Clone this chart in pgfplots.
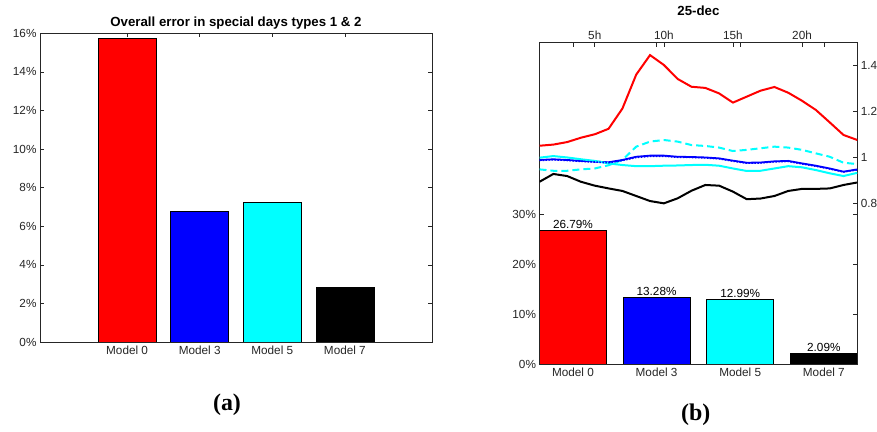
\documentclass[border=0pt]{standalone}
\usepackage{pgfplots}
\pgfplotsset{compat=1.18}
\usepackage{fontspec}
\setmainfont{Liberation Sans}
\newfontfamily\capfont{Liberation Serif}
\definecolor{axgray}{RGB}{38,38,38}
\definecolor{mcyan}{RGB}{0,255,255}
\pgfplotsset{
  every axis title shift=0pt,
  every axis/.append style={
    scale only axis,
    /pgf/number format/assume math mode=true,
    tick label style={font=\fontsize{11.8}{13}\selectfont, color=axgray},
    axis line style={axgray, line width=0.6bp},
    major tick length=4bp,
    tick style={axgray, line width=0.6bp},
    tick align=inside,
  },
}
\begin{document}
\begin{tikzpicture}
\path[use as bounding box] (0bp,0bp) rectangle (877bp,432bp);

% ---------- (a) ----------
\begin{axis}[
  at={(40bp,90bp)}, anchor=south west,
  width=392bp, height=308.7bp,
  xmin=-0.2, xmax=5.2, ymin=0, ymax=16,
  xtick={1,2,3,4}, xticklabels={Model 0,Model 3,Model 5,Model 7},
  ytick={0,2,...,16},
  yticklabel={\pgfmathprintnumber{\tick}\%},
  title={Overall error in special days types 1 \& 2},
  title style={font=\bfseries\fontsize{13.3}{15}\selectfont, at={(0.5,1)}, anchor=center, yshift=10.5bp},
]
\addplot[ybar, bar width=0.8, bar shift=0pt, fill=red, draw=black, line width=0.6bp] coordinates {(1,15.73)};
\addplot[ybar, bar width=0.8, bar shift=0pt, fill=blue, draw=black, line width=0.6bp] coordinates {(2,6.77)};
\addplot[ybar, bar width=0.8, bar shift=0pt, fill=mcyan, draw=black, line width=0.6bp] coordinates {(3,7.26)};
\addplot[ybar, bar width=0.8, bar shift=0pt, fill=black, draw=black, line width=0.6bp] coordinates {(4,2.82)};
\end{axis}

% ---------- (b) bars ----------
\begin{axis}[
  at={(539.5bp,68bp)}, anchor=south west,
  width=317.8bp, height=321.3bp,
  xmin=0.6, xmax=4.4, ymin=0, ymax=64.3,
  xtick={1,2,3,4}, xticklabels={Model 0,Model 3,Model 5,Model 7},
  ytick={0,10,20,30},
  yticklabel={\pgfmathprintnumber{\tick}\%},
  point meta=explicit symbolic,
  nodes near coords,
  every node near coord/.append style={font=\fontsize{11.8}{13}\selectfont, color=black, anchor=south, inner sep=1.5bp},
]
\addplot[ybar, bar width=0.8, bar shift=0pt, fill=red, draw=black, line width=0.6bp] coordinates {(1,26.79) [26.79\%]};
\addplot[ybar, bar width=0.8, bar shift=0pt, fill=blue, draw=black, line width=0.6bp] coordinates {(2,13.28) [13.28\%]};
\addplot[ybar, bar width=0.8, bar shift=0pt, fill=mcyan, draw=black, line width=0.6bp] coordinates {(3,12.99) [12.99\%]};
\addplot[ybar, bar width=0.8, bar shift=0pt, fill=black, draw=black, line width=0.6bp] coordinates {(4,2.09) [2.09\%]};
\end{axis}

% ---------- (b) lines ----------
\begin{axis}[
  at={(539.5bp,68bp)}, anchor=south west,
  width=317.8bp, height=321.3bp,
  xmin=1, xmax=24, ymin=0.1, ymax=1.5,
  xtick={5,10,15,20}, xticklabels={5h,10h,15h,20h},
  ytick={0.8,1,1.2,1.4},
  xtick pos=upper, ytick pos=upper,
  xticklabel pos=upper, yticklabel pos=upper,
  title={25-dec},
  title style={font=\bfseries\fontsize{13.3}{15}\selectfont, at={(0.5,1)}, anchor=center, yshift=31.7bp},
]
\addplot[red, line width=2bp] coordinates {
(1,1.051)(2,1.056)(3,1.067)(4,1.086)(5,1.101)(6,1.125)(7,1.213)(8,1.361)(9,1.446)(10,1.403)(11,1.342)(12,1.308)
(13,1.303)(14,1.279)(15,1.239)(16,1.265)(17,1.291)(18,1.307)(19,1.282)(20,1.247)(21,1.207)(22,1.153)(23,1.098)(24,1.076)};
\addplot[mcyan, line width=2bp, dash pattern=on 7bp off 4bp] coordinates {
(1,0.948)(2,0.942)(3,0.942)(4,0.948)(5,0.952)(6,0.966)(7,0.989)(8,1.047)(9,1.069)(10,1.076)(11,1.069)(12,1.054)
(13,1.050)(14,1.043)(15,1.028)(16,1.033)(17,1.040)(18,1.047)(19,1.043)(20,1.033)(21,1.018)(22,1.003)(23,0.977)(24,0.971)};
\addplot[blue, line width=1.8bp] coordinates {
(1,0.989)(2,0.992)(3,0.989)(4,0.985)(5,0.982)(6,0.979)(7,0.989)(8,1.003)(9,1.008)(10,1.008)(11,1.003)(12,1.002)
(13,1.000)(14,0.996)(15,0.986)(16,0.977)(17,0.978)(18,0.983)(19,0.985)(20,0.974)(21,0.964)(22,0.952)(23,0.938)(24,0.948)};
\addplot[mcyan, line width=2bp] coordinates {
(1,0.999)(2,1.006)(3,1.000)(4,0.992)(5,0.985)(6,0.974)(7,0.967)(8,0.962)(9,0.962)(10,0.964)(11,0.965)(12,0.967)
(13,0.968)(14,0.964)(15,0.952)(16,0.941)(17,0.942)(18,0.952)(19,0.962)(20,0.957)(21,0.945)(22,0.931)(23,0.919)(24,0.933)};
\addplot[blue, line width=1.6bp, dash pattern=on 1.5bp off 1.5bp] coordinates {
(1,0.987)(2,0.990)(3,0.987)(4,0.983)(5,0.980)(6,0.977)(7,0.987)(8,1.000)(9,1.005)(10,1.005)(11,1.001)(12,1.000)
(13,0.998)(14,0.994)(15,0.984)(16,0.975)(17,0.976)(18,0.981)(19,0.983)(20,0.972)(21,0.962)(22,0.950)(23,0.937)(24,0.946)};
\addplot[black, line width=2bp] coordinates {
(1,0.894)(2,0.928)(3,0.919)(4,0.894)(5,0.877)(6,0.865)(7,0.854)(8,0.832)(9,0.810)(10,0.800)(11,0.822)(12,0.855)
(13,0.880)(14,0.877)(15,0.851)(16,0.818)(17,0.821)(18,0.832)(19,0.854)(20,0.863)(21,0.863)(22,0.865)(23,0.880)(24,0.891)};
\end{axis}

\node[font=\capfont\bfseries\fontsize{24}{28}\selectfont] at (227bp,27bp) {(a)};
\node[font=\capfont\bfseries\fontsize{24}{28}\selectfont] at (695.7bp,17bp) {(b)};
\end{tikzpicture}
\end{document}
